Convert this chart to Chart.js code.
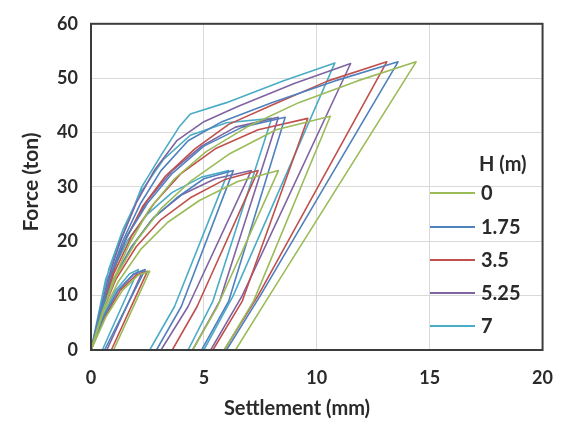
<!DOCTYPE html>
<html lang="en">
<head>
<meta charset="UTF-8">
<title>Force vs Settlement</title>
<script src="https://cdn.jsdelivr.net/npm/chart.js@4.4.1/dist/chart.umd.min.js"></script>
<style>
  html, body { margin: 0; padding: 0; background: #fff; }
  .wrap { width: 570px; height: 427px; }
</style>
</head>
<body>
<div class="wrap"><canvas id="myChart" width="570" height="427"></canvas></div>
<script>
// H (m) values used in the legend
var hLabels = ["0", "1.75", "3.5", "5.25", "7"];
var hColors = ["#9bbb59", "#4f81bd", "#c0504d", "#8064a2", "#4bacc6"];

var xTicks = [0, 5, 10, 15, 20];
var yTicks = [0, 10, 20, 30, 40, 50, 60];

// settlement (mm) / force (ton), one load-unload cycle per block, null = break
var s_h0 = [0, 0.65, 1.4, 2.1, 2.6, 1.0, null,
            0, 0.55, 1.2, 2.2, 3.4, 4.8, 6.5, 8.3, 5.6, 4.5, null,
            0, 0.5, 1.1, 2.0, 3.1, 4.4, 6.1, 8.2, 10.6, 7.2, 5.9, null,
            0, 0.45, 0.95, 1.7, 2.6, 3.7, 5.1, 6.9, 9.2, 11.8, 14.4, 7.9, 6.4];
var f_h0 = [0, 6, 11, 13.8, 14.5, 0, null,
            0, 7, 12.5, 18.5, 23.5, 27.5, 31, 33, 8, 0, null,
            0, 7, 13.5, 20, 26, 31, 36, 40.5, 43, 9, 0, null,
            0, 6, 12.5, 19.5, 26, 31.5, 36.5, 41, 45.5, 49.5, 53, 10, 0];

var s_h175 = [0, 0.55, 1.2, 1.9, 2.4, 0.6, null,
              0, 0.45, 1.0, 1.8, 2.7, 3.8, 5.0, 6.3, 4.0, 2.9, null,
              0, 0.4, 0.9, 1.6, 2.5, 3.6, 5.0, 6.7, 8.6, 6.1, 4.9, null,
              0, 0.38, 0.8, 1.4, 2.2, 3.1, 4.3, 5.8, 8.0, 10.8, 13.6, 7.5, 6.0];
var f_h175 = [0, 6, 11, 14, 14.8, 0, null,
              0, 7, 13, 19, 24, 28, 31.5, 33, 8, 0, null,
              0, 7, 14, 21, 27, 32.5, 37.5, 41, 42.8, 9, 0, null,
              0, 6, 13, 20, 27, 33, 38.5, 42, 45.5, 49.5, 53, 10, 0];

var s_h35 = [0, 0.6, 1.3, 2.0, 2.5, 0.9, null,
             0, 0.5, 1.1, 2.0, 3.1, 4.4, 5.9, 7.4, 4.7, 3.6, null,
             0, 0.45, 1.0, 1.8, 2.8, 4.0, 5.5, 7.4, 9.6, 6.7, 5.4, null,
             0, 0.4, 0.85, 1.5, 2.3, 3.3, 4.6, 6.1, 8.0, 10.5, 13.1, 7.4, 5.9];
var f_h35 = [0, 6, 11, 13.8, 14.5, 0, null,
             0, 7, 13, 19, 24, 28, 31.3, 33, 8, 0, null,
             0, 7, 14, 21, 27, 32.5, 37, 40.5, 42.6, 9, 0, null,
             0, 6, 13, 20, 26.5, 32, 37, 41.5, 45, 49.5, 53, 10, 0];

var s_h525 = [0, 0.55, 1.2, 1.9, 2.3, 0.7, null,
              0, 0.45, 1.0, 1.8, 2.8, 4.0, 5.5, 7.1, 4.3, 3.1, null,
              0, 0.4, 0.9, 1.6, 2.5, 3.6, 4.9, 6.4, 8.3, 5.7, 4.5, null,
              0, 0.35, 0.75, 1.3, 2.0, 2.8, 3.8, 5.0, 6.5, 9.0, 11.5, 6.7, 5.3];
var f_h525 = [0, 6, 11, 14, 14.6, 0, null,
              0, 7, 13, 19, 24.5, 28.5, 31.5, 33, 8, 0, null,
              0, 7, 14, 21, 27.5, 33, 37.5, 41, 42.8, 9, 0, null,
              0, 6, 13, 20, 27, 33, 38.5, 42, 44.8, 49, 52.7, 10, 0];

var s_h7 = [0, 0.5, 1.1, 1.7, 2.1, 0.5, null,
            0, 0.4, 0.9, 1.6, 2.5, 3.6, 4.9, 6.1, 3.7, 2.6, null,
            0, 0.35, 0.8, 1.4, 2.2, 3.2, 4.4, 6.0, 8.0, 5.4, 4.3, null,
            0, 0.3, 0.65, 1.3, 2.25, 3.1, 3.9, 4.4, 6.0, 8.5, 10.8, 6.3, 5.0];
var f_h7 = [0, 6, 11, 14, 14.8, 0, null,
            0, 7, 14, 20, 25, 29, 31.8, 33, 8, 0, null,
            0, 7, 15, 22, 29, 35, 39.5, 41.8, 42.6, 9, 0, null,
            0, 6, 13, 20, 30, 35.8, 41, 43.4, 45.5, 49.5, 52.8, 10, 0];

var sData = [s_h0, s_h175, s_h35, s_h525, s_h7];
var fData = [f_h0, f_h175, f_h35, f_h525, f_h7];

function toPoints(xs, ys) {
    var pts = [];
    var lastX = 0;
    for (var i = 0; i < xs.length; i++) {
        if (xs[i] === null) {
            pts.push({x: lastX, y: null});
        } else {
            lastX = xs[i];
            pts.push({x: xs[i], y: ys[i]});
        }
    }
    return pts;
}

var datasets = [];
for (var i = 0; i < hLabels.length; i++) {
    datasets.push({
        label: hLabels[i],
        data: toPoints(sData[i], fData[i]),
        borderColor: hColors[i],
        borderWidth: 1.6,
        pointRadius: 0,
        fill: false,
        tension: 0,
        borderJoinStyle: 'round',
        spanGaps: false
    });
}

var fontFam = "Lato, 'Liberation Sans', sans-serif";
var textCol = '#2a2a2a';

// plot frame, axis titles and the legend inside the plot area
var framePlugin = {
    id: 'frame',
    afterDatasetsDraw: function(chart) {
        var ctx = chart.ctx;
        var a = chart.chartArea;
        ctx.save();
        ctx.strokeStyle = '#3c3c3c';
        ctx.lineWidth = 2;
        ctx.strokeRect(a.left, a.top, a.right - a.left, a.bottom - a.top);

        ctx.fillStyle = textCol;
        ctx.textBaseline = 'middle';

        // axis titles
        ctx.font = "bold 20px " + fontFam;
        ctx.textAlign = 'center';
        ctx.fillText('Settlement (mm)', 297, 409);
        ctx.save();
        ctx.translate(31, 182);
        ctx.rotate(-Math.PI / 2);
        ctx.font = "bold 21px " + fontFam;
        ctx.fillText('Force (ton)', 0, 0);
        ctx.restore();

        // legend
        ctx.font = "bold 20px " + fontFam;
        ctx.textAlign = 'left';
        ctx.fillText('H (m)', 479, 165);
        var ys = [193, 227, 260, 293, 326];
        for (var i = 0; i < hLabels.length; i++) {
            ctx.strokeStyle = hColors[i];
            ctx.lineWidth = 2;
            ctx.beginPath();
            ctx.moveTo(430, ys[i]);
            ctx.lineTo(475, ys[i]);
            ctx.stroke();
            ctx.fillText(hLabels[i], 481, ys[i] + 1);
        }
        ctx.restore();
    }
};

var ctx = document.getElementById('myChart').getContext('2d');
var myChart = new Chart(ctx, {
    type: 'line',
    data: { datasets: datasets },
    plugins: [framePlugin],
    options: {
        responsive: false,
        animation: false,
        layout: { padding: { top: 15, right: 18, left: 0, bottom: 0 } },
        plugins: {
            legend: { display: false },
            tooltip: { enabled: false }
        },
        scales: {
            x: {
                type: 'linear',
                min: 0,
                max: 20,
                afterBuildTicks: function(axis) {
                    axis.ticks = xTicks.map(function(v) { return {value: v}; });
                },
                afterFit: function(axis) { axis.height = 77; },
                grid: { color: '#d9d9d9', lineWidth: 1, drawTicks: false },
                border: { display: false },
                ticks: {
                    padding: 17,
                    color: textCol,
                    font: { family: fontFam, size: 18, weight: 'bold' }
                }
            },
            y: {
                type: 'linear',
                min: 0,
                max: 60,
                afterBuildTicks: function(axis) {
                    axis.ticks = yTicks.map(function(v) { return {value: v}; });
                },
                afterFit: function(axis) { axis.width = 91; },
                grid: { color: '#d9d9d9', lineWidth: 1, drawTicks: false },
                border: { display: false },
                ticks: {
                    padding: 13,
                    color: textCol,
                    font: { family: fontFam, size: 18, weight: 'bold' }
                }
            }
        }
    }
});
</script>
</body>
</html>
